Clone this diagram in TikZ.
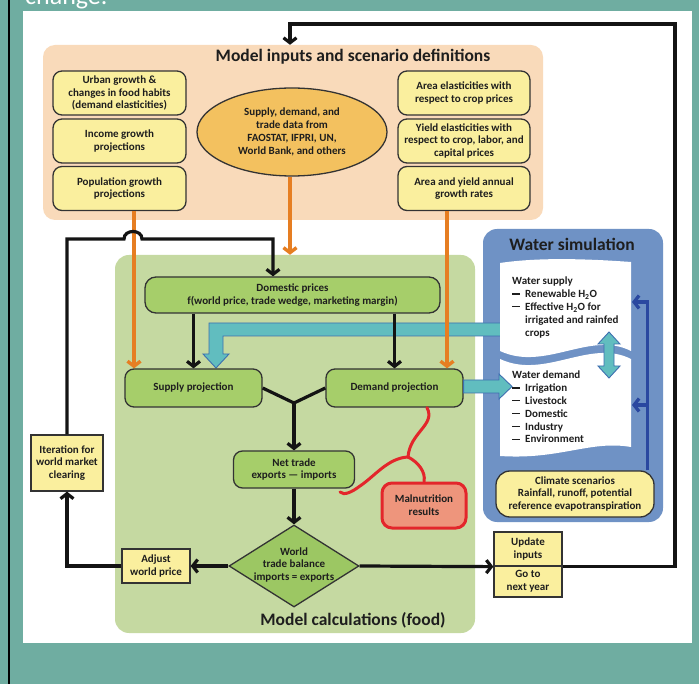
\documentclass[tikz,border=0pt]{standalone}
\usepackage{fontspec}
\setmainfont{Carlito}
\usetikzlibrary{shapes.geometric,arrows.meta,calc}
\definecolor{tealbg}{HTML}{6FADA1}
\definecolor{peach}{HTML}{F9DABA}
\definecolor{yelfill}{HTML}{FAEF9E}
\definecolor{ellfill}{HTML}{F3C15F}
\definecolor{gpanel}{HTML}{C5D9A1}
\definecolor{gbox}{HTML}{A6CE6A}
\definecolor{gdiam}{HTML}{9CC763}
\definecolor{malfill}{HTML}{EE957C}
\definecolor{malred}{HTML}{E3262B}
\definecolor{wpanel}{HTML}{6F92C5}
\definecolor{tealarr}{HTML}{61BDBF}
\definecolor{tealedge}{HTML}{3E6FB0}
\definecolor{darkblue}{HTML}{2A48A0}
\definecolor{orangearr}{HTML}{E67E22}
\definecolor{edgegray}{HTML}{333333}
\definecolor{inktext}{HTML}{1E1E1E}
\newcommand{\wdash}{\makebox[13pt][l]{\rule[3.2pt]{8pt}{1.1pt}}}
\begin{document}
\begin{tikzpicture}[x=1pt,y=-1pt,
  lbl/.style={font=\fontsize{11}{12.8}\selectfont\bfseries, align=center, text=inktext},
  ttl/.style={font=\fontsize{17.5}{20}\selectfont\bfseries, text=inktext},
  yelbox/.style={lbl, draw=edgegray, line width=1.3pt, fill=yelfill, rounded corners=9pt, minimum width=133pt, minimum height=44pt, inner sep=1pt},
  sqbox/.style={lbl, draw=edgegray, line width=1.3pt, fill=yelfill, inner sep=1pt},
  grnbox/.style={lbl, draw=edgegray, line width=1.3pt, fill=gbox, rounded corners=9pt, inner sep=1pt},
  blk/.style={draw=black!92, line width=3.2pt, -{Straight Barb[length=5pt,width=13pt]}},
  blkline/.style={draw=black!92, line width=3.2pt},
  orarr/.style={draw=orangearr, line width=3.4pt, -{Straight Barb[length=5pt,width=13pt]}},
  bluearr/.style={draw=darkblue, line width=3.3pt, -{Straight Barb[length=5pt,width=13pt]}},
  redc/.style={draw=malred, line width=3pt, line cap=round},
  tealblock/.style={fill=tealarr, draw=tealedge, line width=0.9pt, line join=miter}
]
\useasboundingbox (0,0) rectangle (699,684);
\fill[tealbg] (0,0) rectangle (699,684);
\draw[line width=2.5pt] (9,0) -- (9,684);
\fill[white] (23,11) rectangle (692,643);
\begin{scope}
  \clip (0,0) rectangle (699,684);
  \node[anchor=base west, inner sep=0pt, text=white, font=\fontsize{26}{30}\selectfont] (chg) at (25,5) {change.};
\end{scope}

% panels
\node[fill=peach, rounded corners=12pt, minimum width=500pt, minimum height=175pt, inner sep=0pt] (inputs) at (293,132.5) {};
\node[ttl] (inputstitle) at (353,57) {Model inputs and scenario definitions};
\node[fill=gpanel, rounded corners=14pt, minimum width=360pt, minimum height=378pt, inner sep=0pt] (foodpanel) at (295,444) {};
\node[ttl] (foodtitle) at (353,620) {Model calculations (food)};
\node[fill=wpanel, rounded corners=14pt, minimum width=180pt, minimum height=293pt, inner sep=0pt] (water) at (573,375.5) {};
\node[ttl] (watertitle) at (572,244) {Water simulation};

% teal arrow from water supply to supply projection (under the sheet)
\fill[tealblock] (504,323) -- (209,323) -- (209,354) -- (203,354) -- (216,368) -- (229,354) -- (223,354) -- (223,336) -- (504,336) -- cycle;

% sheets
\fill[white] (500,263) .. controls (540,257) and (590,259) .. (631,262) -- (631,351)
  .. controls (590,330) and (545,372) .. (500,351) -- cycle;
\fill[white] (500,359) .. controls (545,380) and (590,338) .. (631,359) -- (631,447)
  .. controls (590,440) and (560,460) .. (500,456) -- cycle;

% model calculation boxes
\node[grnbox, rounded corners=11pt, minimum width=295pt, minimum height=36pt] (dom) at (292.5,295) {Domestic prices\\f(world price, trade wedge, marketing margin)};
\node[grnbox, minimum width=137pt, minimum height=38pt] (supply) at (193.5,388) {Supply projection};
\node[grnbox, minimum width=137pt, minimum height=38pt] (demand) at (394.5,388) {Demand projection};

% teal arrow from demand projection to water demand
\fill[tealblock] (demand.east |- 0,380) -- (499,380) -- (499,374) -- (512,386.5) -- (499,399) -- (499,393) -- (demand.east |- 0,393) -- cycle;

\node[lbl, anchor=north west, align=left, inner sep=0pt] (wsupply) at (512,277)
 {Water supply\\
  \wdash Renewable H\textsubscript{2}O\\
  \wdash Effective H\textsubscript{2}O for\\
  \hspace*{13pt}irrigated and rainfed\\
  \hspace*{13pt}crops};
\node[lbl, anchor=north west, align=left, inner sep=0pt] (wdemand) at (512,371)
 {Water demand\\
  \wdash Irrigation\\
  \wdash Livestock\\
  \wdash Domestic\\
  \wdash Industry\\
  \wdash Environment};

% double teal arrow
\fill[tealblock] (609,332) -- (620,344) -- (614,344) -- (614,366) -- (620,366) -- (609,378)
  -- (598,366) -- (604,366) -- (604,344) -- (598,344) -- cycle;

% climate box and blue arrows
\node[lbl, draw=edgegray, line width=1.3pt, fill=yelfill, rounded corners=14pt, minimum width=158pt, minimum height=46pt, inner sep=1pt] (climate) at (575,494)
 {Climate scenarios\\Rainfall, runoff, potential\\reference evapotranspiration};
\coordinate (btop) at (632,302);
\coordinate (bbot) at (632,405);
\draw[bluearr] ([xshift=-7pt]climate.north east) |- (btop);
\draw[bluearr] ([xshift=-7pt]climate.north east |- bbot) -- (bbot);

% input boxes
\node[yelbox] (urban) at (119.5,93) {Urban growth \&\\changes in food habits\\(demand elasticities)};
\node[yelbox] (income) at (119.5,141) {Income growth\\projections};
\node[yelbox] (pop) at (119.5,188.5) {Population growth\\projections};
\node[yelbox, minimum width=132pt] (area) at (464,93) {Area elasticities with\\respect to crop prices};
\node[yelbox, minimum width=132pt] (yield) at (464,141) {Yield elasticities with\\respect to crop, labor, and\\capital prices};
\node[yelbox, minimum width=132pt] (ayg) at (464,188.5) {Area and yield annual\\growth rates};
\node[lbl, ellipse, draw=edgegray, line width=1.3pt, fill=ellfill, minimum width=190pt, minimum height=88pt, inner sep=0pt] (data) at (292,132)
 {Supply, demand, and\\trade data from\\FAOSTAT, IFPRI, UN,\\World Bank, and others};

% lower model boxes
\node[grnbox, minimum width=121pt, minimum height=37pt] (net) at (294,469.5) {Net trade\\exports \textemdash\ imports};
\node[diamond, draw=edgegray, line width=1.3pt, fill=gdiam, minimum width=130pt, minimum height=82pt, inner sep=0pt] (bal) at (294,566) {};
\node[lbl, inner sep=0pt] (baltext) at (294,565) {World\\trade balance\\imports = exports};
\node[lbl, draw=malred, line width=3pt, fill=malfill, rounded corners=10pt, minimum width=84pt, minimum height=45pt, inner sep=1pt] (mal) at (424,505.5) {Malnutrition\\results};
\node[sqbox, minimum width=68pt, minimum height=34pt] (adjust) at (156,566) {Adjust\\world price};
\node[sqbox, minimum width=72pt, minimum height=56pt] (iter) at (67,463) {Iteration for\\world market\\clearing};
\node[sqbox, minimum width=68pt, minimum height=34pt] (upd1) at (528,549) {Update\\inputs};
\node[sqbox, minimum width=68pt, minimum height=31pt] (upd2) at (528,581.5) {Go to\\next year};

% orange arrows
\draw[orarr] ([xshift=14.5pt]pop.south) -- ([xshift=14.5pt]pop.south |- supply.north);
\draw[orarr] ([xshift=-2pt]data.south) -- ([xshift=-2pt]data.south |- foodpanel.north);
\draw[orarr] ([xshift=-17pt]ayg.south) -- ([xshift=-17pt]ayg.south |- demand.north);

% black arrows
\coordinate (dp) at ([xshift=-19.5pt]dom.north);
\draw[blk] (iter.north) -- (iter.north |- 0,239) -- (124,239) .. controls (124,229) and (142,229) .. (142,239) -- (dp |- 0,239) -- (dp);
\draw[blk] (dom.south -| supply.north) -- (supply.north);
\draw[blk] (dom.south -| demand.north) -- (demand.north);
\coordinate (yj) at (294,403);
\draw[blkline, line join=round] (supply.east) -- (yj) -- (demand.west);
\draw[blk] (yj) -- (net.north);
\draw[blk] (net.south) -- (bal.north);
\draw[blk] (bal.west) -- (adjust.east);
\draw[blk] (adjust.west) -| (iter.south);
\draw[blk] (bal.east) -- (upd1.south west);
\coordinate (ret) at (675,24);
\draw[blk] (upd1.south east) -| (ret) -| ([xshift=-3pt]inputs.north);

% red brace
\draw[redc] ([xshift=32.5pt]demand.south) .. controls (436,425) and (410,432) .. (408,457) coordinate (rj);
\draw[redc] (rj) .. controls (418,462) and (426,472) .. (mal.north);
\draw[redc] (rj) .. controls (388,458) and (375,476) .. (360,486) .. controls (352,492) and (344,496) .. (340,492);
\end{tikzpicture}
\end{document}
